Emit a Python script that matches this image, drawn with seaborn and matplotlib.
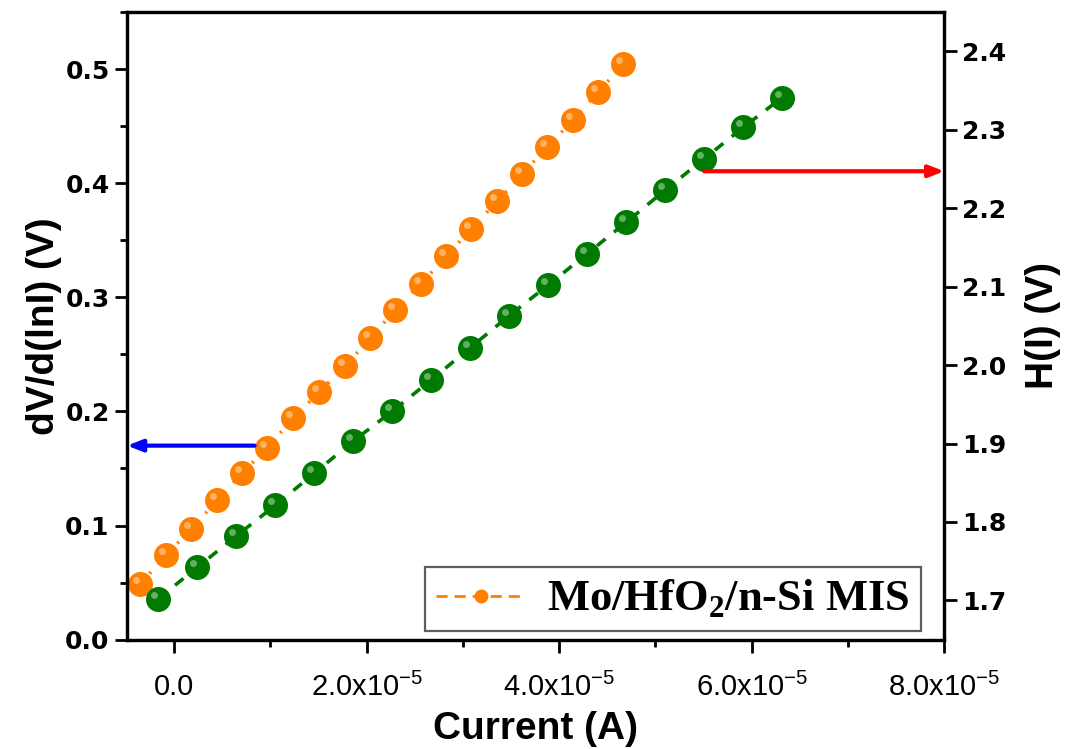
import numpy as np
import matplotlib
matplotlib.use('Agg')
import matplotlib.pyplot as plt
import matplotlib.transforms as mtransforms
from matplotlib.lines import Line2D
from matplotlib.ticker import MultipleLocator, FixedLocator
import seaborn as sns

# dV/d(lnI) vs current (left axis)
i_dv = [-0.353, -0.083, 0.177, 0.447, 0.707, 0.966, 1.236, 1.506, 1.777, 2.036,
        2.296, 2.566, 2.826, 3.086, 3.356, 3.616, 3.875, 4.145, 4.405, 4.665]
dv = [0.049, 0.074, 0.097, 0.122, 0.146, 0.168, 0.194, 0.217, 0.240, 0.264,
      0.289, 0.312, 0.336, 0.360, 0.384, 0.408, 0.432, 0.455, 0.480, 0.504]

# H(I) vs current (right axis)
i_h = [-0.166, 0.239, 0.644, 1.049, 1.455, 1.860, 2.265, 2.670, 3.075,
       3.481, 3.886, 4.291, 4.696, 5.101, 5.506, 5.912, 6.317]
h = [1.702, 1.742, 1.782, 1.821, 1.862, 1.903, 1.941, 1.981, 2.022,
     2.063, 2.102, 2.142, 2.182, 2.223, 2.263, 2.303, 2.341]

i_dv = np.array(i_dv) * 1e-5
i_h = np.array(i_h) * 1e-5

xticks = [0, 2e-5, 4e-5, 6e-5, 8e-5]
xlabels = ['0.0', r'2.0x10$^{-5}$', r'4.0x10$^{-5}$', r'6.0x10$^{-5}$', r'8.0x10$^{-5}$']

orange = '#ff7f00'
green = '#007a00'

sns.set_style('ticks')
plt.rcParams['font.family'] = ['Liberation Sans', 'DejaVu Sans']
plt.rcParams['mathtext.fontset'] = 'custom'
plt.rcParams['mathtext.rm'] = 'Liberation Sans'
plt.rcParams['mathtext.bf'] = 'Liberation Serif:bold'
for k in ['text.color', 'axes.labelcolor', 'xtick.color', 'ytick.color']:
    plt.rcParams[k] = 'black'

fig = plt.figure(figsize=(10.67, 7.49), dpi=100)
ax = fig.add_axes([0.119, 0.146, 0.766, 0.838])
ax2 = ax.twinx()

def balls(a, x, y, col, ls):
    sns.lineplot(x=x, y=y, ax=a, color=col, linestyle=ls, linewidth=2.6,
                 marker='o', markersize=18, markeredgewidth=0, sort=False)
    # little highlight to mimic the shaded spheres
    off = mtransforms.offset_copy(a.transData, fig=fig, x=-4, y=4, units='dots')
    a.plot(x, y, 'o', color='white', alpha=0.4, markersize=5, markeredgewidth=0,
           transform=off)

balls(ax, i_dv, dv, orange, (0, (0.6, 3.2)))
balls(ax2, i_h, h, green, (0, (3, 3)))

ax.set_xlim(-0.49e-5, 8e-5)
ax.set_ylim(0, 0.55)
ax2.set_ylim(1.65, 2.45)

# arrows pointing to the axes
ax.annotate('', xy=(-0.49e-5, 0.17), xytext=(i_dv[5], 0.17),
            arrowprops=dict(arrowstyle='-|>,head_length=0.9,head_width=0.35',
                            color='#0000ff', lw=3, shrinkA=9, shrinkB=0))
ax2.annotate('', xy=(8e-5, 2.247), xytext=(i_h[14], 2.247),
             arrowprops=dict(arrowstyle='-|>,head_length=0.9,head_width=0.35',
                             color='#ff0000', lw=3, shrinkA=0, shrinkB=0))

ax.xaxis.set_major_locator(FixedLocator(xticks))
ax.set_xticklabels(xlabels, fontsize=21)
ax.xaxis.set_minor_locator(MultipleLocator(1e-5))
ax.yaxis.set_minor_locator(MultipleLocator(0.05))

for a in (ax, ax2):
    for s in a.spines.values():
        s.set_linewidth(2.3)
        s.set_color('black')
    a.tick_params(which='major', direction='out', length=9, width=2.0)
    a.tick_params(which='minor', direction='out', length=5, width=2.0)
ax.tick_params(axis='y', which='both', right=False)
ax.tick_params(axis='x', which='both', top=False)
ax.tick_params(axis='x', which='major', pad=15)
ax2.tick_params(axis='y', which='minor', right=False)

ax.set_yticks(np.arange(0, 0.51, 0.1))
ax.set_yticklabels([f'{v:.1f}' for v in np.arange(0, 0.51, 0.1)],
                   family='DejaVu Sans', fontweight='bold', fontsize=18)
ax2.set_yticks(np.arange(1.7, 2.41, 0.1))
ax2.set_yticklabels([f'{v:.1f}' for v in np.arange(1.7, 2.41, 0.1)],
                    family='DejaVu Sans', fontweight='bold', fontsize=18)

ax.set_xlabel('Current (A)', fontsize=28, fontweight='bold', labelpad=6)
ax.set_ylabel('dV/d(lnI) (V)', fontsize=28, fontweight='bold', labelpad=2)
ax2.set_ylabel('H(I) (V)', fontsize=28, fontweight='bold', labelpad=14)

handle = Line2D([], [], color=orange, linestyle=(0, (4, 2.5)), linewidth=2.0,
                marker='o', markersize=10, markeredgewidth=0)
leg = ax2.legend([handle], [r'Mo/HfO$_\mathbf{2}$/n-Si MIS'], loc='lower right',
                 bbox_to_anchor=(0.971, 0.013), borderaxespad=0, frameon=True,
                 fancybox=False, handlelength=2.0, borderpad=0.25, handletextpad=0.5,
                 prop=dict(family='Liberation Serif', weight='bold', size=32))
leg.get_frame().set_edgecolor('#333333')
leg.get_frame().set_linewidth(1.6)

fig.savefig('out.png', dpi=100)
